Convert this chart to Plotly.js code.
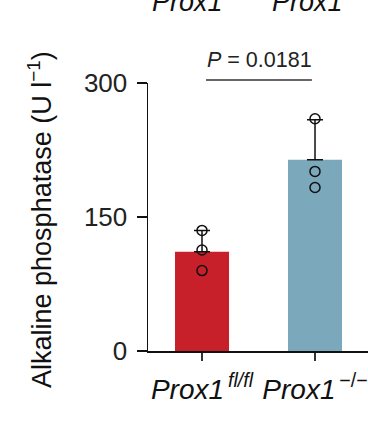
<!DOCTYPE html>
<html>
<head>
<meta charset="utf-8">
<script src="https://cdn.plot.ly/plotly-3.0.1.min.js"></script>
<style>html,body{margin:0;padding:0;background:#fff;}#chart{width:368px;height:423px;}</style>
</head>
<body>
<div id="chart"></div>
<script>
// Data
const groups = [0, 1];
const groupLabels = ["<i>Prox1</i><sup>\u2009<i>fl/fl</i></sup>", "<i>Prox1</i><sup>\u2009\u2212/\u2212</sup>"];
const meanValues = [111, 214];
const errorUp = [24, 45];
const pointsFlFl = [90, 113, 135];
const pointsKO = [183, 201, 260];
const yTicks = [0, 150, 300];
const pLabel = "<i>P</i> = 0.0181";

const barColors = ["#C8202B", "#7BA8BA"];

const traces = [
  {
    type: "bar",
    x: groups,
    y: meanValues,
    width: 0.478,
    marker: {color: barColors, line: {width: 0}},
    error_y: {
      type: "data", symmetric: false, array: errorUp, arrayminus: [0, 0],
      color: "#111", thickness: 1.5, width: 8
    },
    hoverinfo: "skip"
  },
  {
    type: "scatter", mode: "markers",
    x: pointsFlFl.map(() => groups[0]), y: pointsFlFl,
    marker: {symbol: "circle-open", size: 10, color: "#111", line: {width: 1.5, color: "#111"}},
    cliponaxis: false
  },
  {
    type: "scatter", mode: "markers",
    x: pointsKO.map(() => groups[1]), y: pointsKO,
    marker: {symbol: "circle-open", size: 10, color: "#111", line: {width: 1.5, color: "#111"}},
    cliponaxis: false
  }
];

const fontFam = "Liberation Sans, Arial, sans-serif";

const layout = {
  width: 368, height: 423,
  margin: {l: 148, r: 0, t: 83, b: 72},
  paper_bgcolor: "#fff", plot_bgcolor: "#fff",
  showlegend: false,
  font: {family: fontFam, color: "#222"},
  xaxis: {
    range: [-0.478, 1.469],
    tickmode: "array", tickvals: groups, ticktext: groupLabels,
    ticks: "outside", ticklen: 8, tickwidth: 1.5, tickcolor: "#333",
    ticklabelstandoff: 5,
    tickfont: {size: 28, color: "#111"},
    showline: true, linecolor: "#111", linewidth: 1.5,
    showgrid: false, zeroline: false, fixedrange: true
  },
  yaxis: {
    range: [0, 300],
    tickmode: "array", tickvals: yTicks, ticktext: yTicks.map(String),
    ticks: "outside", ticklen: 10, tickwidth: 1.5, tickcolor: "#111",
    ticklabelstandoff: 4,
    tickfont: {size: 26, color: "#222"},
    showline: true, linecolor: "#111", linewidth: 1.5,
    showgrid: false, zeroline: false, fixedrange: true
  },
  shapes: [
    {type: "line", xref: "paper", yref: "paper", x0: 0.2636, x1: 0.745, y0: 1.011, y1: 1.011,
     line: {color: "#333", width: 1.5}}
  ],
  annotations: [
    {text: pLabel, xref: "paper", yref: "paper", x: 0.505, y: 1.035, xanchor: "center", yanchor: "bottom",
     showarrow: false, font: {size: 21.5, color: "#222", family: fontFam}},
    {text: "Alkaline phosphatase (U l<sup>\u22121</sup>)", xref: "paper", yref: "paper",
     x: -0.491, y: 0.4925, xanchor: "center", yanchor: "middle", textangle: -90,
     showarrow: false, font: {size: 27, color: "#111", family: fontFam}},
    {text: "<i>Prox1</i>", xref: "paper", yref: "paper", x: 0.18, y: 1.24, xanchor: "center", yanchor: "bottom",
     showarrow: false, font: {size: 27, color: "#111", family: fontFam}},
    {text: "<i>Prox1</i>", xref: "paper", yref: "paper", x: 0.725, y: 1.24, xanchor: "center", yanchor: "bottom",
     showarrow: false, font: {size: 27, color: "#111", family: fontFam}}
  ]
};

Plotly.newPlot("chart", traces, layout, {displayModeBar: false, staticPlot: true});
</script>
</body>
</html>
